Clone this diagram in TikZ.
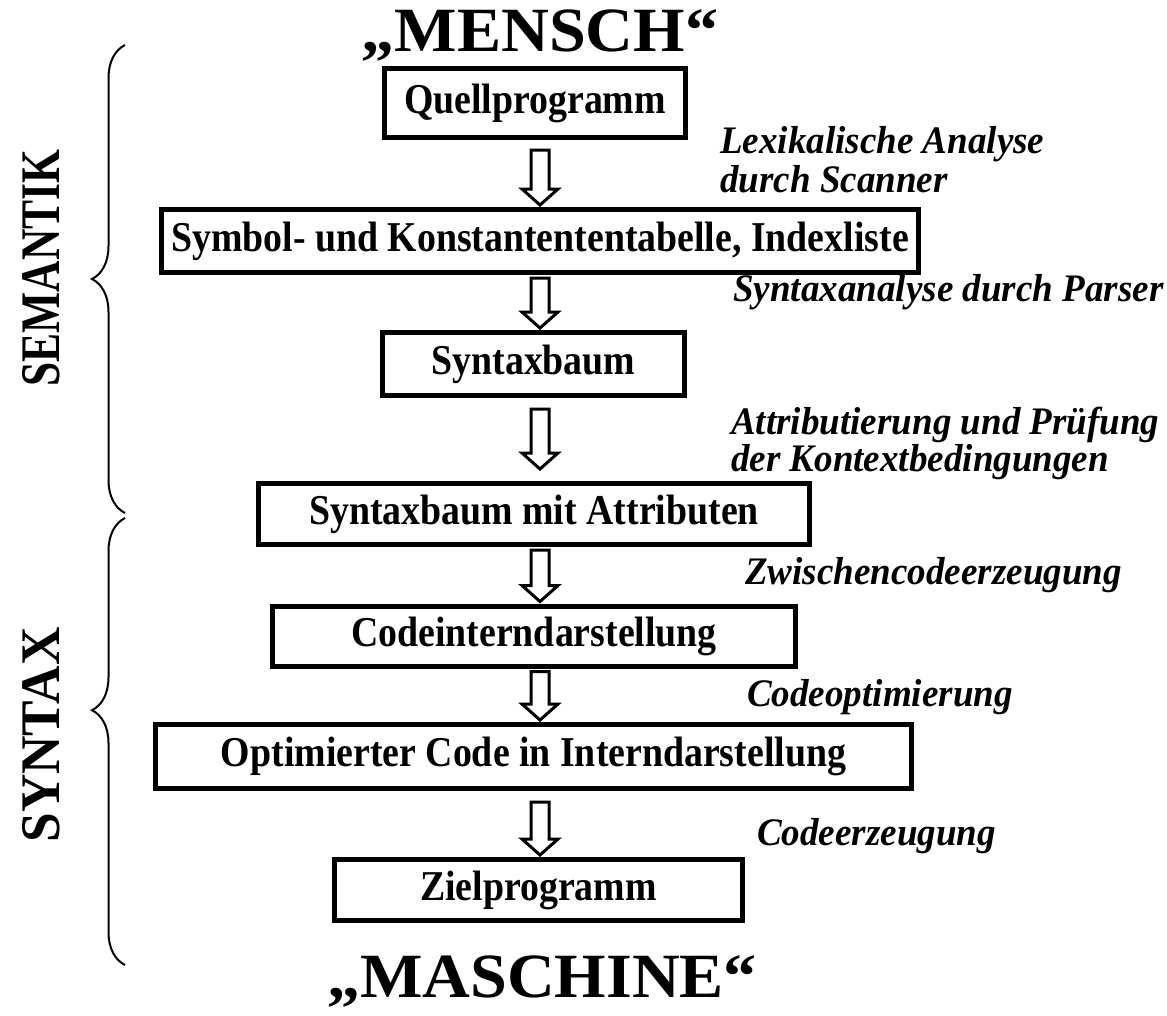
\documentclass[tikz,border=0pt]{standalone}
\usepackage{fontspec}
\usepackage{graphicx}
\setmainfont{Liberation Serif}
% slightly narrowed / widened cuts of the same serif
\newfontfamily\stagefont{Liberation Serif}[FakeStretch=0.89]
\newfontfamily\notefont{Liberation Serif}[FakeStretch=0.95]
\newfontfamily\polefont{Liberation Serif}[FakeStretch=1.05]
\usetikzlibrary{calc,decorations.pathreplacing}

% hollow block arrow between two named coordinates (start of shaft, tip)
\newcommand\flowarrow[2]{%
  \draw[hollowarrow] let \p1=(#1), \p2=(#2) in
    (\x1-9pt,\y1) -- (\x1+9pt,\y1) -- (\x1+9pt,\y2+16pt) -- (\x1+18pt,\y2+16pt)
    -- (\x1,\y2) -- (\x1-18pt,\y2+16pt) -- (\x1-9pt,\y2+16pt) -- cycle;}

\begin{document}
\begin{tikzpicture}[x=1pt,y=-1pt,
  stage/.style={draw, line width=5pt, inner sep=0pt, align=center,
    font=\stagefont\fontsize{42.5}{46}\selectfont\bfseries},
  note/.style={anchor=base west, inner sep=0pt,
    font=\notefont\fontsize{39}{41}\selectfont\bfseries\itshape},
  pole/.style={anchor=base, inner sep=0pt,
    font=\polefont\fontsize{63}{66}\selectfont\bfseries},
  hollowarrow/.style={draw, line width=3pt, fill=white, line join=miter},
  bracket/.style={draw, line width=2pt,
    decorate, decoration={brace, amplitude=33pt}},
  side/.style={rotate=90, inner sep=0pt}]

\useasboundingbox (0,0) rectangle (1167,1015);

% vertical axis of the arrows
\coordinate (axis) at (540,0);

% end points
\node[pole] (mensch) at (540,51) {„MENSCH“};
\node[pole] (maschine) at (542,997) {„MASCHINE“};

% stages of the compiler
\node[stage, minimum width=301, minimum height=69] (quell)  at (535,103)   {Quellprogramm};
\node[stage, minimum width=757, minimum height=63] (symtab) at (540,241)   {Symbol- und Konstantententabelle, Indexliste};
\node[stage, minimum width=302, minimum height=63] (sbaum)  at (533.5,364) {Syntaxbaum};
\node[stage, minimum width=551, minimum height=61] (sattr)  at (534,514)   {Syntaxbaum mit Attributen};
\node[stage, minimum width=523, minimum height=60] (code)   at (534,636)   {Codeinterndarstellung};
\node[stage, minimum width=756, minimum height=64] (opt)    at (533.5,756.5) {Optimierter Code in Interndarstellung};
\node[stage, minimum width=408, minimum height=61] (ziel)   at (538.5,890) {Zielprogramm};

% phases
\node[note] (lex1)  at (720,153) {Lexikalische Analyse};
\node[note] (lex2)  at (720,192) {durch Scanner};
\node[note] (parse) at (733,301) {Syntaxanalyse durch Parser};
\node[note] (attr1) at (731,434) {Attributierung und Prüfung};
\node[note] (attr2) at (731,471) {der Kontextbedingungen};
\node[note] (zw)    at (745,584) {Zwischencodeerzeugung};
\node[note] (copt)  at (747,706) {Codeoptimierung};
\node[note] (cgen)  at (757,845) {Codeerzeugung};

% arrow end points
\coordinate (a1s) at ($(quell.south -| axis)+(0,10)$);
\coordinate (a1e) at ($(symtab.north -| axis)+(0,-2)$);
\coordinate (a2s) at ($(symtab.south -| axis)+(0,3)$);
\coordinate (a2e) at ($(sbaum.north -| axis)+(0,-2)$);
\coordinate (a3s) at ($(sbaum.south -| axis)+(0,11)$);
\coordinate (a3e) at ($(sattr.north -| axis)+(0,-12)$);
\coordinate (a4s) at ($(sattr.south -| axis)+(0,3)$);
\coordinate (a4e) at ($(code.north -| axis)+(0,-2)$);
\coordinate (a5s) at ($(code.south -| axis)+(0,3)$);
\coordinate (a5e) at ($(opt.north -| axis)+(0,-2)$);
\coordinate (a6s) at ($(opt.south -| axis)+(0,11)$);
\coordinate (a6e) at ($(ziel.north -| axis)+(0,-2)$);

\flowarrow{a1s}{a1e}
\flowarrow{a2s}{a2e}
\flowarrow{a3s}{a3e}
\flowarrow{a4s}{a4e}
\flowarrow{a5s}{a5e}
\flowarrow{a6s}{a6e}

% grouping braces with their labels
\coordinate (b1top) at (125,45);
\coordinate (b1bot) at (125,513);
\coordinate (b2top) at (125,518);
\coordinate (b2bot) at (125,965);
\draw[bracket] (b1bot) -- (b1top);
\draw[bracket, decoration={aspect=0.57}] (b2bot) -- (b2top);

\node[side] (sem) at (41,268) {\resizebox{237pt}{37pt}{\bfseries SEMANTIK}};
\node[side] (syn) at (41,735) {\resizebox{215pt}{37pt}{\bfseries SYNTAX}};

\end{tikzpicture}
\end{document}
